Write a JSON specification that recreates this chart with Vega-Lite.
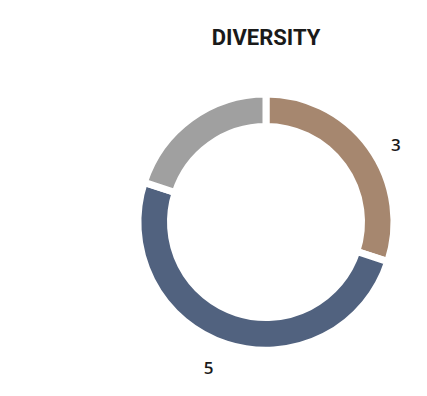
{
  "$schema": "https://vega.github.io/schema/vega-lite/v6.json",
  "width": 322,
  "height": 300,
  "autosize": "none",
  "padding": {"left": 105, "top": 72, "right": 0, "bottom": 24},
  "background": "white",
  "title": {"text": "DIVERSITY", "font": "Roboto", "fontSize": 22, "fontWeight": "bold", "color": "#1a1a1a", "offset": 22},
  "view": {"stroke": null},
  "data": {"values": [
    {"category": "A", "value": 3, "ord": 1, "label": "3"},
    {"category": "B", "value": 5, "ord": 2, "label": "5"},
    {"category": "C", "value": 2, "ord": 3, "label": ""}
  ]},
  "encoding": {
    "theta": {"field": "value", "type": "quantitative", "stack": true},
    "order": {"field": "ord", "type": "quantitative"}
  },
  "layer": [
    {
      "mark": {"type": "arc", "outerRadius": 128, "innerRadius": 95.5, "stroke": "white", "strokeWidth": 7},
      "encoding": {
        "color": {"field": "category", "type": "nominal", "legend": null,
          "scale": {"domain": ["A", "B", "C"], "range": ["#A6876F", "#51627F", "#A0A0A0"]}}
      }
    },
    {
      "mark": {"type": "text", "radius": 153, "thetaOffset": 0.07, "dy": 5, "font": "Open Sans", "fontSize": 17, "fontWeight": 600, "color": "#1a1a1a"},
      "encoding": {"text": {"field": "label"}}
    }
  ]
}
